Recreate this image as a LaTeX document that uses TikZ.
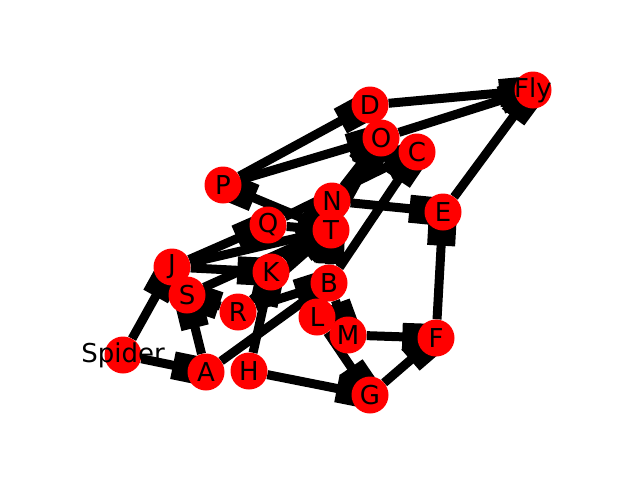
\documentclass[tikz,border=0pt]{standalone}
\usepackage{fontspec}
\setmainfont{DejaVu Sans}
\usetikzlibrary{arrows.meta}
\pgfdeclarelayer{bg}\pgfsetlayers{bg,main}
\begin{document}
\begin{tikzpicture}[x=1pt,y=-1pt,
  v/.style={circle,fill=red,minimum size=37pt,inner sep=0pt},
  every label/.style={font=\fontsize{26}{26}\selectfont,text=black,inner sep=0pt},
  e/.style={line width=9pt,-{Rectangle[length=24pt,width=28pt,sep=-9pt]}}]
\useasboundingbox (0,0) rectangle (640,480);
\node[v,label=center:Spider] (Spider) at (123,355) {};
\node[v,label=center:A] (A) at (206,372) {};
\node[v,label=center:H] (H) at (249,371) {};
\node[v,label=center:G] (G) at (370,395) {};
\node[v,label=center:F] (F) at (436,338) {};
\node[v,label=center:M] (M) at (348,335) {};
\node[v,label=center:L] (L) at (317,317) {};
\node[v,label=center:B] (B) at (329,283) {};
\node[v,label=center:E] (E) at (443,212) {};
\node[v,label=center:N] (N) at (332,201) {};
\node[v,label=center:T] (T) at (331,230) {};
\node[v,label=center:Q] (Q) at (268,225) {};
\node[v,label=center:P] (P) at (223,185) {};
\node[v,label=center:K] (K) at (271,272) {};
\node[v,label=center:J] (J) at (172,267) {};
\node[v,label=center:S] (S) at (187,295) {};
\node[v,label=center:R] (R) at (238,312) {};
\node[v,label=center:D] (D) at (370,105) {};
\node[v,label=center:O] (O) at (381,138) {};
\node[v,label=center:C] (C) at (417,152) {};
\node[v,label=center:Fly] (Fly) at (533,90) {};
\begin{pgfonlayer}{bg}
\draw[e] (Spider) -- (J);
\draw[e] (Spider) -- (A);
\draw[e] (A) -- (S);
\draw[e] (A) -- (B);
\draw[e] (H) -- (K);
\draw[e] (H) -- (G);
\draw[e] (L) -- (G);
\draw[e] (G) -- (F);
\draw[e] (M) -- (F);
\draw[e] (F) -- (E);
\draw[e] (E) -- (Fly);
\draw[e] (N) -- (E);
\draw[e] (D) -- (Fly);
\draw[e] (O) -- (Fly);
\draw[e] (B) -- (C);
\draw[e] (B) -- (M);
\draw[e] (B) -- (T);
\draw[e] (P) -- (D);
\draw[e] (P) -- (O);
\draw[e] (T) -- (P);
\draw[e] (N) -- (O);
\draw[e] (T) -- (O);
\draw[e] (Q) -- (C);
\draw[e] (Q) -- (T);
\draw[e] (K) -- (T);
\draw[e] (J) -- (T);
\draw[e] (J) -- (K);
\draw[e] (J) -- (Q);
\draw[e] (S) -- (T);
\draw[e] (R) -- (S);
\draw[e] (R) -- (T);
\draw[e] (R) -- (B);
\draw[e] (K) -- (N);
\end{pgfonlayer}
\end{tikzpicture}
\end{document}
